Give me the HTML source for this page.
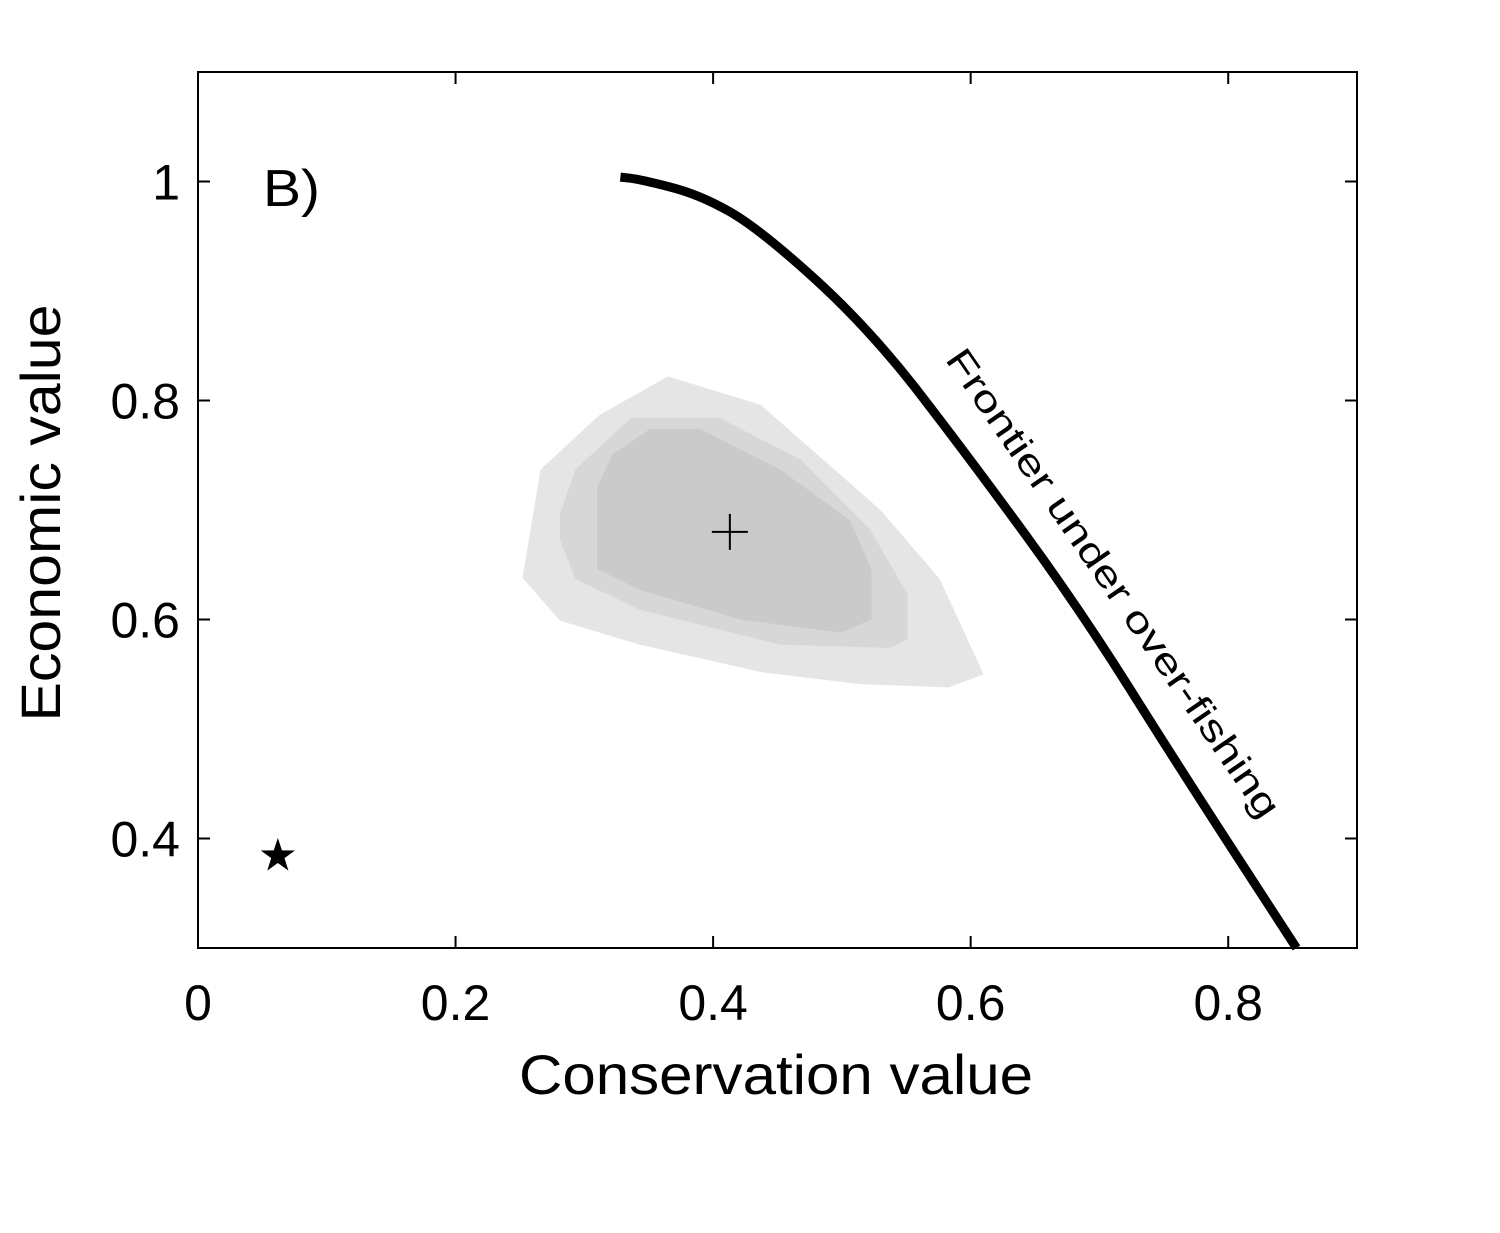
<!DOCTYPE html>
<html><head><meta charset="utf-8"><style>
html,body{margin:0;padding:0;background:#fff;}
svg{display:block;font-family:"Liberation Sans",Arial,sans-serif;}
</style></head><body>
<svg id="chart" width="1500" height="1233" viewBox="0 0 1500 1233">
<g id="contours"></g>
<g id="frontier"></g>
<g id="markers"></g>
<rect x="198" y="72" width="1159" height="876" fill="none" stroke="#000" stroke-width="2"/>
<g id="ticks"></g>
<text x="263" y="206" font-size="52" textLength="57" lengthAdjust="spacingAndGlyphs">B)</text>
<text x="776" y="1094" font-size="56" text-anchor="middle" textLength="514" lengthAdjust="spacingAndGlyphs">Conservation value</text>
<text transform="translate(60,513) rotate(-90)" font-size="56" text-anchor="middle" textLength="417" lengthAdjust="spacingAndGlyphs">Economic value</text>
<text transform="translate(1103,590) rotate(55.5)" font-size="37" text-anchor="middle" textLength="560" lengthAdjust="spacingAndGlyphs">Frontier under over-fishing</text>
</svg>
<script>
const xTicks=[0,0.2,0.4,0.6,0.8];
const xTickLabels=["0","0.2","0.4","0.6","0.8"];
const yTicks=[0.4,0.6,0.8,1];
const yTickLabels=["0.4","0.6","0.8","1"];
const frontierX=[0.328,0.343,0.39,0.437,0.522,0.6,0.685,0.763,0.853];
const frontierY=[1.004,1.002,0.988,0.956,0.865,0.746,0.609,0.463,0.3];
const outerX=[0.252,0.266,0.312,0.365,0.437,0.530,0.576,0.610,0.583,0.514,0.437,0.343,0.281];
const outerY=[0.638,0.737,0.787,0.822,0.796,0.700,0.637,0.550,0.538,0.541,0.552,0.577,0.599];
const midX=[0.281,0.293,0.336,0.405,0.468,0.522,0.551,0.551,0.537,0.452,0.343,0.293,0.281];
const midY=[0.696,0.737,0.784,0.784,0.746,0.682,0.623,0.582,0.574,0.577,0.609,0.637,0.673];
const innerX=[0.310,0.322,0.351,0.390,0.452,0.506,0.523,0.523,0.499,0.421,0.343,0.310];
const innerY=[0.721,0.751,0.774,0.774,0.737,0.691,0.646,0.600,0.588,0.600,0.627,0.646];
const meanPoint=[0.413,0.680];
const starPoint=[0.062,0.384];

const L=198,R=1357,T=72,B=948,xmin=0,xmax=0.9,ymin=0.3,ymax=1.1;
const sx=v=>L+(v-xmin)/(xmax-xmin)*(R-L);
const sy=v=>B-(v-ymin)/(ymax-ymin)*(B-T);
const NS="http://www.w3.org/2000/svg";
function mk(tag,attrs,parent){const e=document.createElementNS(NS,tag);for(const k in attrs)e.setAttribute(k,attrs[k]);parent.appendChild(e);return e;}

const cg=document.getElementById('contours');
[[outerX,outerY,'#e5e5e5','contour-outer'],[midX,midY,'#d7d7d7','contour-middle'],[innerX,innerY,'#cacaca','contour-inner']].forEach(([xs,ys,c,n])=>{
  const p=mk('polygon',{points:xs.map((x,i)=>sx(x)+','+sy(ys[i])).join(' '),fill:c},cg);
  
  
});

const fg=document.getElementById('frontier');
let d='';
for(let i=0;i<frontierX.length;i++){
  const x=sx(frontierX[i]),y=sy(frontierY[i]);
  if(i===0)d+='M'+x+','+y;
  else{const px=sx(frontierX[i-1]),py=sy(frontierY[i-1]);d+=' Q'+px+','+py+' '+((px+x)/2)+','+((py+y)/2);}
}
d+=' L'+sx(frontierX[frontierX.length-1])+','+sy(frontierY[frontierY.length-1]);
const fl=mk('path',{d:d,fill:'none',stroke:'#000','stroke-width':9},fg);



const mg=document.getElementById('markers');
const mx=sx(meanPoint[0]),my=sy(meanPoint[1]);
const plus=mk('path',{d:`M${mx-18},${my}H${mx+18}M${mx},${my-18}V${my+18}`,stroke:'#000','stroke-width':2},mg);


const stx=sx(starPoint[0]),sty=sy(starPoint[1]);
let pts=[];for(let i=0;i<10;i++){const r=i%2?7:18,a=-Math.PI/2+i*Math.PI/5;pts.push((stx+r*Math.cos(a))+','+(sty+r*Math.sin(a)));}
const star=mk('polygon',{points:pts.join(' '),fill:'#000'},mg);



const tg=document.getElementById('ticks');
xTicks.forEach((v,i)=>{
  const x=sx(v);
  mk('path',{d:`M${x},${B}V${B-12}M${x},${T}V${T+12}`,stroke:'#000','stroke-width':2},tg);
  const t=mk('text',{x:x,y:1020,'font-size':50,'text-anchor':'middle'},tg);
  t.textContent=xTickLabels[i];
  
  
});
yTicks.forEach((v,i)=>{
  const y=sy(v);
  mk('path',{d:`M${L},${y}H${L+12}M${R},${y}H${R-12}`,stroke:'#000','stroke-width':2},tg);
  const t=mk('text',{x:180,y:y+18,'font-size':50,'text-anchor':'end'},tg);
  t.textContent=yTickLabels[i];
  
  
});
</script>
</body></html>
